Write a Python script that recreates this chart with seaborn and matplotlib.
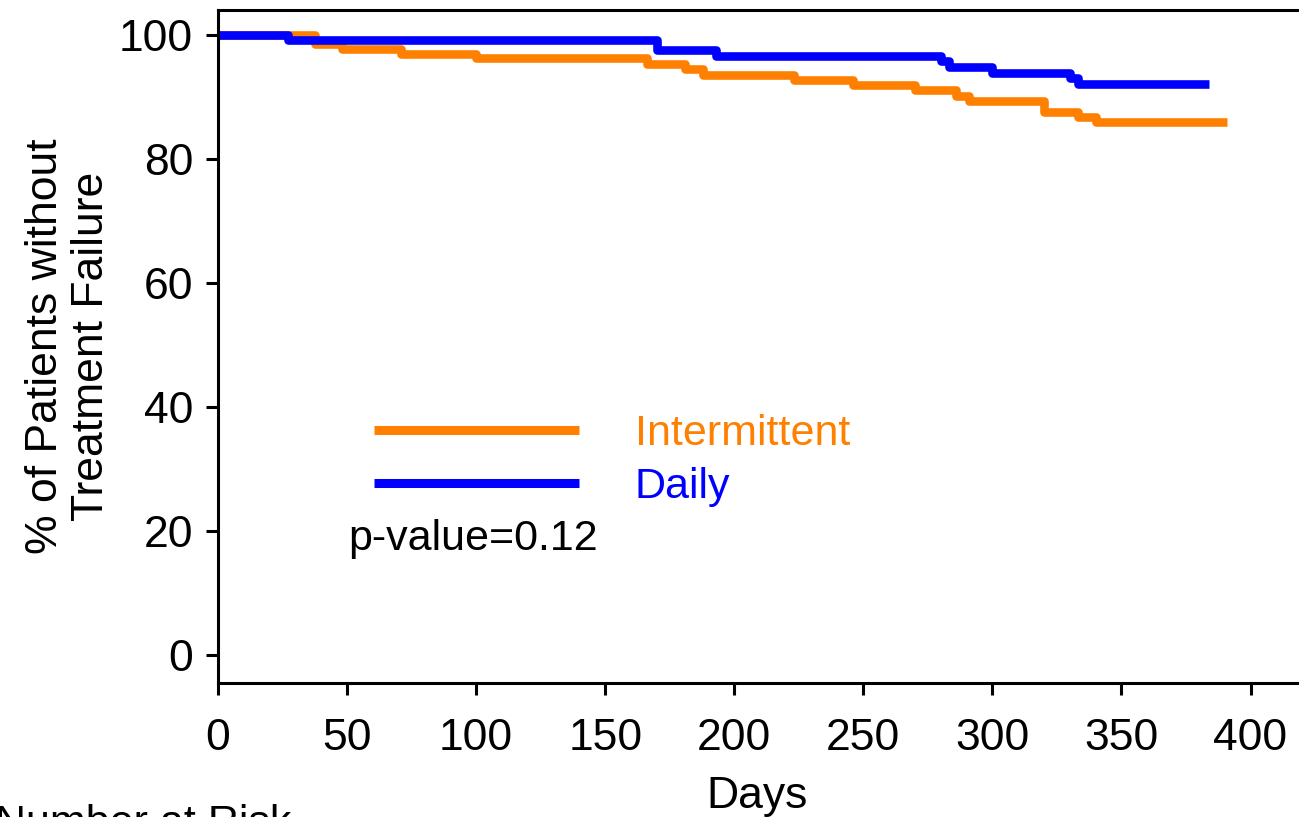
import matplotlib.pyplot as plt
import seaborn as sns
import pandas as pd

# Kaplan-Meier style steps (days, % without failure)
daily_days = [0, 27, 170, 193, 280, 283, 300, 330, 333, 384]
daily_pct = [100, 99.2, 97.5, 96.6, 95.7, 94.8, 93.9, 93.0, 92.0, 92.0]

inter_days = [0, 37.6, 48, 71, 100, 166, 181, 188, 223, 246, 270, 286, 291,
              320, 333, 340, 391]
inter_pct = [100, 98.5, 97.7, 96.9, 96.2, 95.3, 94.5, 93.6, 92.7, 91.9, 91.1,
             90.2, 89.4, 87.6, 86.8, 86.0, 86.0]

groups = ['Intermittent', 'Daily']
colours = {'Intermittent': '#FF8000', 'Daily': '#0000FF'}
x_ticks = [0, 50, 100, 150, 200, 250, 300, 350, 400]
y_ticks = [0, 20, 40, 60, 80, 100]

df = pd.concat([
    pd.DataFrame({'Days': inter_days, 'pct': inter_pct, 'group': 'Intermittent'}),
    pd.DataFrame({'Days': daily_days, 'pct': daily_pct, 'group': 'Daily'}),
], ignore_index=True)

sns.set_theme(style='ticks', rc={
    'axes.linewidth': 2.2, 'axes.edgecolor': 'black',
    'text.color': 'black', 'axes.labelcolor': 'black',
    'xtick.color': 'black', 'ytick.color': 'black',
    'xtick.major.width': 2.2, 'ytick.major.width': 2.2,
    'xtick.major.size': 8.5, 'ytick.major.size': 9,
    'xtick.major.pad': 17, 'ytick.major.pad': 9,
    'font.size': 32, 'axes.labelsize': 32,
    'xtick.labelsize': 32, 'ytick.labelsize': 32,
})
plt.rcParams['font.family'] = ['Liberation Sans', 'DejaVu Sans']

fig = plt.figure(figsize=(12.99, 8.17), dpi=100)
ax = fig.add_axes([218 / 1299, 1 - 683 / 817, 1079 / 1299, 673 / 817])

sns.lineplot(data=df, x='Days', y='pct', hue='group', hue_order=groups,
             palette=colours, estimator=None, sort=False,
             drawstyle='steps-post', linewidth=6.2,
             solid_joinstyle='round', solid_capstyle='butt', ax=ax)

ax.set_xlim(0, 418)
ax.set_ylim(-4.5, 104)
ax.set_xticks(x_ticks)
ax.set_yticks(y_ticks)
ax.spines['right'].set_visible(False)
ax.set_xlabel('Days', labelpad=12)
ax.set_ylabel('% of Patients without\nTreatment Failure', labelpad=5,
              linespacing=1.15)

leg = ax.legend(loc='upper left', bbox_to_anchor=(0.145, 0.40),
                frameon=False, fontsize=31, handlelength=4.75,
                handletextpad=1.3, labelspacing=0.3, borderpad=0,
                borderaxespad=0, labelcolor='linecolor')
for line in leg.get_lines():
    line.set_linewidth(6.5)
    line.set_solid_capstyle('butt')

ax.text(0.1205, 0.214, 'p-value=0.12', transform=ax.transAxes,
        fontsize=31, va='center', ha='left')

fig.text(-0.004, -0.022, 'Number at Risk', fontsize=31, ha='left',
         va='baseline')

fig.savefig('out.png', dpi=100)
plt.close(fig)
